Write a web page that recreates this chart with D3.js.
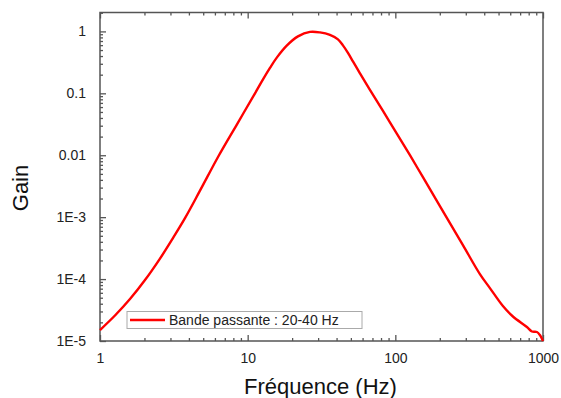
<!DOCTYPE html>
<html><head><meta charset="utf-8">
<script src="https://cdn.jsdelivr.net/npm/d3@7"></script>
<style>body{margin:0;background:#fff}svg{display:block}</style>
</head><body>
<svg id="c" width="561" height="398"></svg>
<script>
const freq = [1,1.263,1.596,2.017,2.548,3.073,3.763,4.754,6.393,8.465,11.21,12.70,14.16,15.79,18.46,21.91,26.42,30.87,36.07,40.88,44.18,47.77,51.64,57.60,67.30,91.93,125.6,153.8,200.4,286.9,373.9,437.0,535.2,625.6,778.0,841.2,909.3,952.8,1000];
const gain = [1.504e-5,2.578e-5,4.757e-5,9.636e-5,2.141e-4,4.337e-4,9.636e-4,2.676e-3,0.01,0.0316,0.1,0.1682,0.2578,0.3807,0.5945,0.8306,0.9815,0.9636,0.878,0.743,0.5945,0.4498,0.3282,0.2102,0.1139,0.03405,0.01,4.418e-3,1.504e-3,3.535e-4,1.204e-4,7.157e-5,3.668e-5,2.485e-5,1.681e-5,1.423e-5,1.397e-5,1.249e-5,1e-5];
const xTicks = [1,10,100,1000];
const xTickLabels = ["1","10","100","1000"];
const yTicks = [1,0.1,0.01,1e-3,1e-4,1e-5];
const yTickLabels = ["1","0.1","0.01","1E-3","1E-4","1E-5"];
const seriesName = "Bande passante : 20-40 Hz";

const L=100,R=543,T=12.5,B=341;
const svg=d3.select("#c");
const x=d3.scaleLog().domain([1,1000]).range([L,R]);
const y=d3.scaleLog().domain([1e-5,2.02]).range([B,T]);
const axisCol="#555";
const font="Liberation Sans, Arial, sans-serif";

const xMinor=[];[1,10,100].forEach(d=>{for(let k=2;k<=9;k++)xMinor.push(d*k);});
const yMinor=[];[1e-5,1e-4,1e-3,1e-2,1e-1,1].forEach(d=>{for(let k=2;k<=9;k++){if(d*k<=2.02)yMinor.push(d*k);}});

function style(g){g.select(".domain").remove();g.selectAll("line").attr("stroke",axisCol).attr("stroke-width",1.3);g.selectAll("text").attr("font-family",font).attr("font-size",14).attr("fill","#222");}

// bottom
svg.append("g").attr("transform",`translate(0,${B})`).call(d3.axisBottom(x).tickValues(xTicks).tickSize(-6).tickPadding(12).tickFormat((d,i)=>xTickLabels[i])).call(style);
svg.append("g").attr("transform",`translate(0,${B})`).call(d3.axisBottom(x).tickValues(xMinor).tickSize(-3).tickFormat("")).call(style);
// top
svg.append("g").attr("transform",`translate(0,${T})`).call(d3.axisTop(x).tickValues(xTicks).tickSize(-6).tickFormat("")).call(style);
svg.append("g").attr("transform",`translate(0,${T})`).call(d3.axisTop(x).tickValues(xMinor).tickSize(-3).tickFormat("")).call(style);
// left
svg.append("g").attr("transform",`translate(${L},0)`).call(d3.axisLeft(y).tickValues(yTicks).tickSize(-6).tickPadding(14).tickFormat((d,i)=>yTickLabels[i])).call(style);
svg.append("g").attr("transform",`translate(${L},0)`).call(d3.axisLeft(y).tickValues(yMinor).tickSize(-3).tickFormat("")).call(style);

// frame
svg.append("rect").attr("x",L).attr("y",T).attr("width",R-L).attr("height",B-T).attr("fill","none").attr("stroke",axisCol).attr("stroke-width",1.5);

// curve
const pts=freq.map((f,i)=>[f,gain[i]]);
svg.append("path").datum(pts).attr("fill","none").attr("stroke","#ff0000").attr("stroke-width",2.4)
 .attr("stroke-linejoin","round")
 .attr("d",d3.line().x(d=>x(d[0])).y(d=>y(d[1])).curve(d3.curveCatmullRom.alpha(0.5)));

// legend
const lg=svg.append("g");
lg.append("rect").attr("x",127).attr("y",311.5).attr("width",235).attr("height",17).attr("fill","#fff").attr("stroke","#aaa").attr("stroke-width",1);
lg.append("line").attr("x1",130).attr("x2",165).attr("y1",320).attr("y2",320).attr("stroke","#ff0000").attr("stroke-width",2.4);
lg.append("text").attr("x",169).attr("y",325).attr("font-family",font).attr("font-size",14).attr("fill","#222").text(seriesName);

// axis titles
svg.append("text").attr("x",(L+R)/2-1).attr("y",394).attr("text-anchor","middle").attr("font-family",font).attr("font-size",22).attr("fill","#111").text("Fréquence (Hz)");
svg.append("text").attr("transform","translate(28,188) rotate(-90)").attr("text-anchor","middle").attr("font-family",font).attr("font-size",22).attr("fill","#111").text("Gain");
</script>
</body></html>
